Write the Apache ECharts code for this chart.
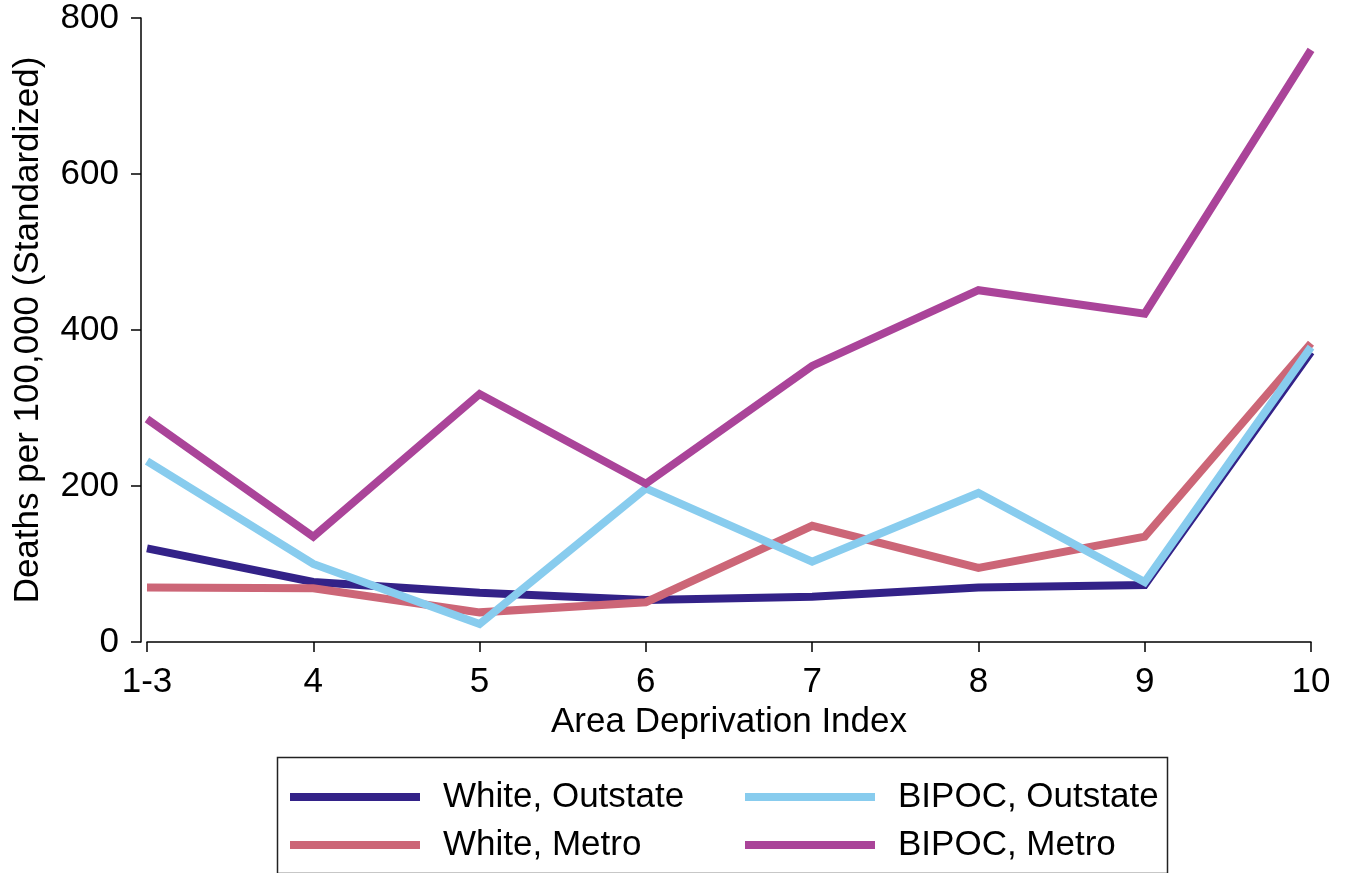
<!DOCTYPE html>
<html>
<head>
<meta charset="utf-8">
<script src="https://cdn.jsdelivr.net/npm/echarts@6/dist/echarts.min.js"></script>
<style>html,body{margin:0;padding:0;background:#fff}#c{width:1348px;height:873px}</style>
</head>
<body>
<div id="c"></div>
<script>
var categories = ['1-3', '4', '5', '6', '7', '8', '9', '10'];
var whiteOutstate = [120, 77, 63, 54, 58, 70, 73, 372];
var whiteMetro = [70, 69, 38, 51, 149, 95, 135, 383];
var bipocOutstate = [232, 100, 23, 197, 103, 191, 77, 378];
var bipocMetro = [286, 135, 318, 203, 354, 451, 421, 759];
var seriesNames = ['White, Outstate', 'White, Metro', 'BIPOC, Outstate', 'BIPOC, Metro'];
var seriesColors = ['#332288', '#CC6677', '#88CCEE', '#AA4499'];
var yTicks = [0, 200, 400, 600, 800];

var FONT = '"Liberation Sans", Arial, Helvetica, sans-serif';
var chart = echarts.init(document.getElementById('c'), null, {renderer: 'canvas'});
var dataSets = [whiteOutstate, whiteMetro, bipocOutstate, bipocMetro];

function legendCfg(left, names) {
  return {
    orient: 'vertical', left: left, top: 777, padding: 0,
    itemWidth: 130, itemHeight: 8, itemGap: 8,
    icon: 'rect', selectedMode: false,
    data: names,
    textStyle: {fontFamily: FONT, fontSize: 35, color: '#000', lineHeight: 40, padding: [0, 0, 0, 18]}
  };
}

chart.setOption({
  backgroundColor: '#fff',
  animation: false,
  grid: {left: 147, right: 37, top: 18, bottom: 231},
  legend: [
    legendCfg(290, [seriesNames[0], seriesNames[1]]),
    legendCfg(745, [seriesNames[2], seriesNames[3]])
  ],
  graphic: [{
    type: 'rect', left: 275, top: 755,
    shape: {width: 890, height: 116},
    style: {fill: 'none', stroke: '#222', lineWidth: 1.5}
  }],
  xAxis: {
    type: 'category', data: categories, boundaryGap: false, offset: 3,
    name: 'Area Deprivation Index', nameLocation: 'middle', nameGap: 58,
    nameTextStyle: {fontFamily: FONT, fontSize: 35, color: '#000'},
    axisLine: {lineStyle: {color: '#000', width: 1.5}},
    axisTick: {show: true, alignWithLabel: true, length: 10, lineStyle: {color: '#000', width: 1.5}},
    axisLabel: {fontFamily: FONT, fontSize: 35, color: '#000', margin: 20, interval: 0},
    splitLine: {show: false}
  },
  yAxis: {
    type: 'value', min: yTicks[0], max: yTicks[yTicks.length - 1], interval: 200, offset: 6,
    name: 'Deaths per 100,000 (Standardized)', nameLocation: 'middle', nameGap: 95,
    nameTextStyle: {fontFamily: FONT, fontSize: 35, color: '#000'},
    axisLine: {show: true, lineStyle: {color: '#000', width: 1.5}},
    axisTick: {show: true, length: 10, lineStyle: {color: '#000', width: 1.5}},
    axisLabel: {fontFamily: FONT, fontSize: 35, color: '#000', margin: 22},
    splitLine: {show: false}
  },
  series: seriesNames.map(function (n, i) {
    return {
      name: n, type: 'line', data: dataSets[i],
      showSymbol: false, symbol: 'none',
      lineStyle: {color: seriesColors[i], width: 8, join: 'miter'},
      itemStyle: {color: seriesColors[i]}
    };
  })
});
</script>
</body>
</html>
